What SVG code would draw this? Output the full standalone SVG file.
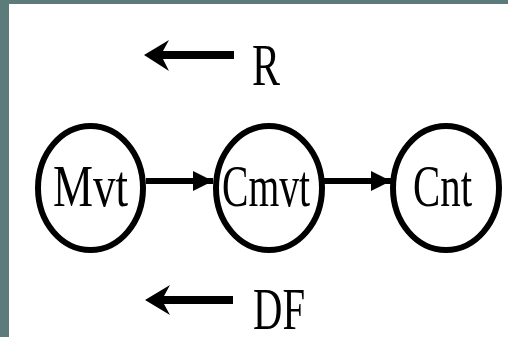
<svg xmlns="http://www.w3.org/2000/svg" width="508" height="337" viewBox="0 0 508 337">
  <style>
    .frame { fill: #5d7b7b; }
    .page { fill: #ffffff; }
    .node { fill: #ffffff; stroke: #000000; stroke-width: 6; }
    .label { font-family: "Liberation Serif", "Times New Roman", serif; font-size: 60px; fill: #000000; }
    .link { stroke: #000000; stroke-width: 6; fill: none; }
    .key { fill: #000000; }
  </style>
  <defs>
    <marker id="head" viewBox="0 0 20 20" refX="20" refY="10" markerWidth="20" markerHeight="20" markerUnits="userSpaceOnUse" orient="auto">
      <path d="M0,0 L20,10 L0,20 Z" fill="#000000"/>
    </marker>
  </defs>

  <!-- frame and page -->
  <rect class="frame" x="0" y="0" width="508" height="337"/>
  <rect class="page" x="9" y="4" width="499" height="333"/>

  <!-- legend: R -->
  <g id="legend-r">
    <polygon class="key" points="144,55 169,40 163,51 234,51 234,59 163,59 169,71"/>
    <text class="label" x="252" y="85" textLength="28" lengthAdjust="spacingAndGlyphs">R</text>
  </g>

  <!-- connectors -->
  <g id="connectors">
    <line class="link" x1="146" y1="181" x2="213" y2="181" marker-end="url(#head)"/>
    <line class="link" x1="324" y1="181" x2="391" y2="181" marker-end="url(#head)"/>
  </g>

  <!-- nodes -->
  <g id="node-mvt">
    <ellipse class="node" cx="90.5" cy="188" rx="52.5" ry="62"/>
    <text class="label" x="53" y="206" textLength="75" lengthAdjust="spacingAndGlyphs">Mvt</text>
  </g>
  <g id="node-cmvt">
    <ellipse class="node" cx="269" cy="188" rx="53" ry="62"/>
    <text class="label" x="222" y="206" textLength="88" lengthAdjust="spacingAndGlyphs">Cmvt</text>
  </g>
  <g id="node-cnt">
    <ellipse class="node" cx="446" cy="188" rx="53" ry="62"/>
    <text class="label" x="413" y="206" textLength="59" lengthAdjust="spacingAndGlyphs">Cnt</text>
  </g>

  <!-- legend: DF -->
  <g id="legend-df">
    <polygon class="key" points="145,300 170,285 164,296 233,296 233,304 164,304 170,315"/>
    <text class="label" x="253" y="329" textLength="52" lengthAdjust="spacingAndGlyphs">DF</text>
  </g>
</svg>
